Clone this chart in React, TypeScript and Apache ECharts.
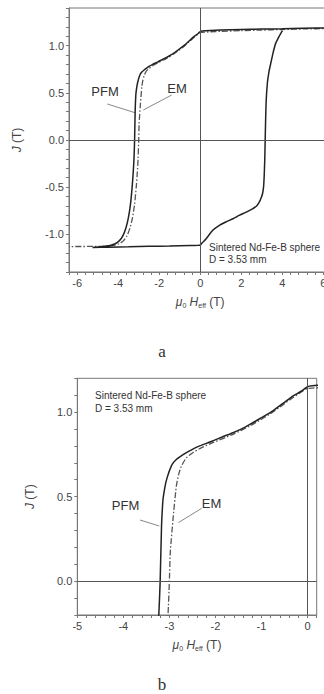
import React, { useEffect, useRef } from "react";
import * as echarts from "echarts";

// PFM loop: descending branch from +saturation, then ascending branch
const pfmH = [
  6.4, 5, 4, 3, 2, 1, 0.5, 0.1, 0, -0.1, -0.2, -0.32, -0.5, -0.76, -1.0, -1.19, -1.4, -1.62, -1.85, -2.06,
  -2.34, -2.5, -2.63, -2.75, -2.85, -2.93, -2.99, -3.04, -3.08, -3.12, -3.14, -3.17, -3.2, -3.23, -3.27,
  -3.32, -3.4, -3.5, -3.62, -3.78, -3.95, -4.15, -4.4, -4.8, -5.25,
  -4.5, -3.5, -2.5, -1.5, -0.5, -0.1, 0, 0.1, 0.28, 0.6, 0.9, 1.25, 1.6, 1.9, 2.25, 2.55, 2.75, 2.88,
  2.98, 3.04, 3.09, 3.12, 3.15, 3.17, 3.19, 3.22, 3.28, 3.36, 3.45, 3.56, 3.69, 3.85, 4.01,
];
const pfmJ = [
  1.188, 1.185, 1.18, 1.176, 1.172, 1.166, 1.162, 1.156, 1.15, 1.13, 1.113, 1.095, 1.058, 1.006, 0.967,
  0.937, 0.905, 0.878, 0.853, 0.829, 0.8, 0.78, 0.76, 0.74, 0.72, 0.695, 0.66, 0.62, 0.58, 0.52, 0.48,
  0.33, 0.0, -0.2, -0.35, -0.5, -0.68, -0.82, -0.93, -1.02, -1.07, -1.1, -1.12, -1.132, -1.14,
  -1.137, -1.133, -1.128, -1.124, -1.119, -1.117, -1.115, -1.09, -1.05, -0.96, -0.91, -0.87, -0.835,
  -0.8, -0.765, -0.73, -0.7, -0.66, -0.61, -0.57, -0.5, -0.39, -0.2, 0.0, 0.2, 0.42, 0.61, 0.73, 0.82,
  0.93, 1.03, 1.1, 1.16,
];

// EM: descending branch
const emH = [
  6.4, 5, 4, 3, 2, 1, 0.5, 0.1, 0, -0.1, -0.32, -0.55, -0.83, -1.05, -1.26, -1.62, -2.06, -2.3, -2.49,
  -2.63, -2.74, -2.8, -2.85, -2.92, -2.98, -3.0, -3.03, -3.07, -3.12, -3.2, -3.3, -3.42, -3.58, -3.75,
  -3.95, -4.3, -5.0, -6.4,
];
const emJ = [
  1.182, 1.178, 1.172, 1.166, 1.16, 1.152, 1.148, 1.142, 1.14, 1.125, 1.085, 1.04, 0.986, 0.95, 0.917,
  0.868, 0.819, 0.79, 0.76, 0.73, 0.68, 0.63, 0.56, 0.37, 0.17, 0.0, -0.2, -0.35, -0.5, -0.68, -0.82,
  -0.93, -1.02, -1.07, -1.1, -1.12, -1.128, -1.13,
];

const labelA = "Sintered Nd-Fe-B sphere";
const labelD = "D = 3.53 mm";

const FONT = '"Liberation Sans", Arial, sans-serif';
const SERIF = '"Liberation Serif", "Times New Roman", serif';
const AXC = "#777";
const TXC = "#444";

function pairs(xs: number[], ys: number[]) {
  return xs.map((x, i) => [x, ys[i]]);
}

function fmt(step: number) {
  return (v: number) => {
    const r = Math.round(v * 10);
    if (r % Math.round(step * 10) !== 0) return "";
    return step < 1 ? (r / 10).toFixed(1) : String(r / 10);
  };
}

function xAxisCfg(grid: number, min: number, max: number, interval: number, step: number) {
  return {
    type: "value",
    gridIndex: grid,
    min,
    max,
    interval,
    axisLine: { show: true, onZero: false, lineStyle: { color: AXC, width: 1 } },
    axisTick: { show: true, inside: false, length: 3, interval: 0, lineStyle: { color: AXC } },
    splitLine: { show: false },
    axisLabel: { interval: 0, formatter: fmt(step), color: TXC, fontSize: 11, fontFamily: FONT, margin: 5 },
    name: "{i|\u03bc}{sub|0} {i|H}{sub|eff} (T)",
    nameLocation: "middle",
    nameGap: 23,
    nameTextStyle: {
      color: TXC,
      fontSize: 12,
      fontFamily: FONT,
      rich: {
        i: { fontStyle: "italic", fontSize: 12, color: TXC, fontFamily: FONT },
        sub: { fontSize: 7, color: TXC, fontFamily: FONT, padding: [7, 0, 0, 0] },
      },
    },
  };
}

function yAxisCfg(grid: number, min: number, max: number, gap: number) {
  return {
    type: "value",
    gridIndex: grid,
    min,
    max,
    interval: 0.1,
    axisLine: { show: true, onZero: false, lineStyle: { color: AXC, width: 1 } },
    axisTick: { show: true, inside: false, length: 3, interval: 0, lineStyle: { color: AXC } },
    splitLine: { show: false },
    axisLabel: { interval: 0, formatter: fmt(0.5), color: TXC, fontSize: 11, fontFamily: FONT, margin: 5 },
    name: "{i|J} (T)",
    nameLocation: "middle",
    nameRotate: 90,
    nameGap: gap,
    nameTextStyle: {
      color: TXC,
      fontSize: 12,
      fontFamily: FONT,
      rich: { i: { fontStyle: "italic", fontSize: 12, color: TXC, fontFamily: FONT } },
    },
  };
}

function zeroLines() {
  return {
    silent: true,
    symbol: ["none", "none"],
    label: { show: false },
    lineStyle: { color: "#555", width: 1, type: "solid" },
    data: [{ xAxis: 0 }, { yAxis: 0 }],
    animation: false,
  };
}

function seriesFor(grid: number) {
  return [
    {
      type: "line",
      xAxisIndex: grid,
      yAxisIndex: grid,
      data: pairs(emH, emJ),
      showSymbol: false,
      symbol: "none",
      smooth: 0.2,
      clip: true,
      lineStyle: { color: "#555", width: 1.3, type: [6, 2, 1.5, 2] },
      z: 3,
    },
    {
      type: "line",
      xAxisIndex: grid,
      yAxisIndex: grid,
      data: pairs(pfmH, pfmJ),
      showSymbol: false,
      symbol: "none",
      smooth: 0.2,
      clip: true,
      lineStyle: { color: "#222", width: 1.5 },
      markLine: zeroLines(),
      z: 4,
    },
  ];
}

function txt(text: string, x: number, y: number, size: number, align = "left", family = FONT) {
  return {
    type: "text",
    x,
    y,
    silent: true,
    style: { text, fill: "#333", fontSize: size, fontFamily: family, align, verticalAlign: "middle" },
  };
}

function ln(x1: number, y1: number, x2: number, y2: number) {
  return {
    type: "line",
    silent: true,
    shape: { x1, y1, x2, y2 },
    style: { stroke: "#888", lineWidth: 1 },
  };
}

export default function App() {
  const ref = useRef<HTMLDivElement>(null);
  useEffect(() => {
    if (!ref.current) return;
    const chart = echarts.init(ref.current, undefined, { renderer: "svg" });
    chart.setOption({
      animation: false,
      backgroundColor: "#fff",
      textStyle: { fontFamily: FONT },
      grid: [
        { left: 69, top: 8, width: 262.4, height: 264, show: true, borderColor: AXC, borderWidth: 1, containLabel: false, outerBoundsMode: "none" },
        { left: 77.3, top: 378.3, width: 239.4, height: 236.7, show: true, borderColor: AXC, borderWidth: 1, containLabel: false, outerBoundsMode: "none" },
      ],
      xAxis: [xAxisCfg(0, -6.4, 6.4, 0.4, 2), xAxisCfg(1, -5, 0.2, 0.2, 1)],
      yAxis: [yAxisCfg(0, -1.4, 1.4, 46), yAxisCfg(1, -0.2, 1.2, 41)],
      series: [...seriesFor(0), ...seriesFor(1)],
      graphic: [
        txt("PFM", 105, 91, 13, "center"),
        txt("EM", 177, 88, 13, "center"),
        ln(107.3, 104, 135, 112.7),
        ln(171.7, 95, 143.3, 110),
        txt(labelA, 209, 247, 10),
        txt(labelD, 209, 259, 10),
        txt("a", 162, 351, 17, "center", SERIF),
        txt("PFM", 125.5, 505, 13, "center"),
        txt("EM", 211.5, 503, 13, "center"),
        ln(140, 520, 159.3, 526),
        ln(201.7, 508.3, 178.3, 522.7),
        txt(labelA, 95, 395, 10),
        txt(labelD, 95, 408, 10),
        txt("b", 162, 684, 17, "center", SERIF),
      ],
    });
    return () => chart.dispose();
  }, []);
  return (
    <div style={{ position: "absolute", left: 0, top: 0, width: 324, height: 694, overflow: "hidden", background: "#fff" }}>
      <div ref={ref} style={{ width: 340, height: 694 }} />
    </div>
  );
}
